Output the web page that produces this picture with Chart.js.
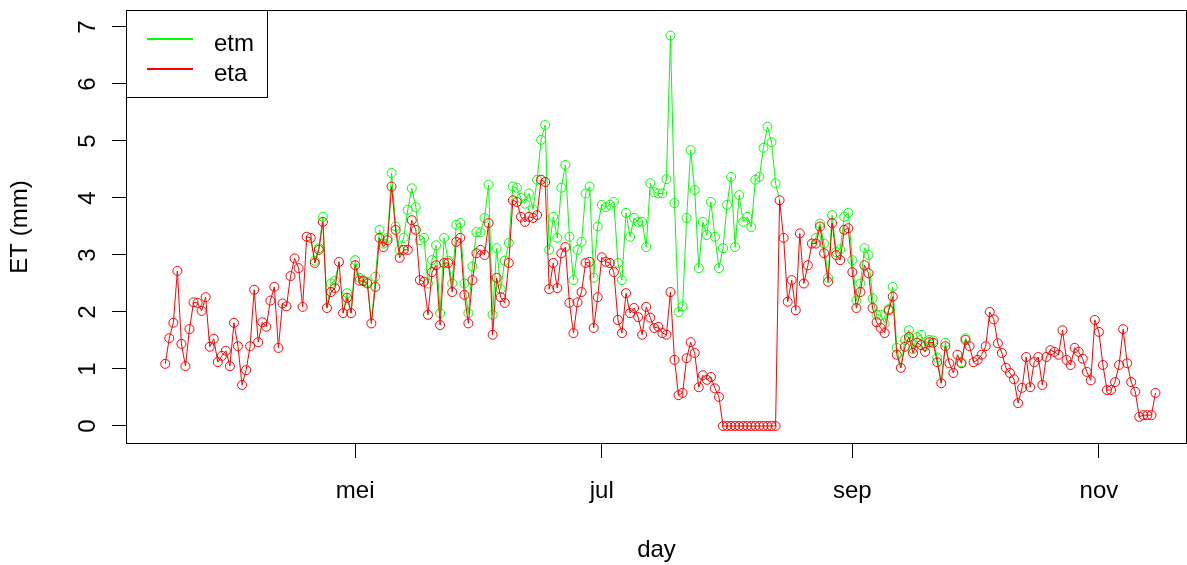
<!DOCTYPE html>
<html>
<head>
<meta charset="utf-8">
<script src="https://cdn.jsdelivr.net/npm/chart.js@4.4.1/dist/chart.umd.min.js"></script>
<style>
  html, body { margin: 0; padding: 0; background: #fff; }
</style>
</head>
<body>
<canvas id="myChart" width="1187" height="565"></canvas>
<script>
// day of year of the first value (15 March), one value per day after that
const firstDay = 74;

const eta = [
  1.09, 1.54, 1.81, 2.72, 1.44, 1.05, 1.70, 2.17, 2.16, 2.02,
  2.26, 1.39, 1.53, 1.12, 1.23, 1.32, 1.05, 1.81, 1.40, 0.72,
  0.98, 1.40, 2.39, 1.47, 1.82, 1.74, 2.20, 2.44, 1.37, 2.15,
  2.10, 2.63, 2.94, 2.77, 2.09, 3.32, 3.30, 2.86, 3.09, 3.58,
  2.07, 2.35, 2.42, 2.88, 1.98, 2.25, 1.98, 2.82, 2.55, 2.54,
  2.50, 1.80, 2.44, 3.30, 3.14, 3.26, 4.20, 3.44, 2.95, 3.09,
  3.09, 3.61, 3.44, 2.56, 2.53, 1.95, 2.70, 2.82, 1.77, 2.86,
  2.86, 2.35, 3.23, 3.30, 2.30, 1.80, 2.56, 3.03, 3.09, 3.00,
  3.56, 1.60, 2.60, 2.26, 2.16, 2.86, 3.96, 3.93, 3.67, 3.58,
  3.67, 3.65, 3.70, 4.32, 4.28, 2.40, 2.86, 2.42, 3.03, 3.14,
  2.16, 1.63, 2.17, 2.35, 2.86, 2.88, 1.72, 2.26, 2.96, 2.88,
  2.86, 2.70, 1.86, 1.63, 2.33, 1.98, 2.07, 1.91, 1.60, 2.09,
  1.90, 1.72, 1.74, 1.63, 1.60, 2.35, 1.16, 0.54, 0.58, 1.19,
  1.47, 1.28, 0.68, 0.89, 0.81, 0.86, 0.66, 0.51, 0, 0,
  0, 0, 0, 0, 0, 0, 0, 0, 0, 0,
  0, 0, 3.96, 3.30, 2.18, 2.56, 2.03, 3.38, 2.50, 2.82,
  3.20, 3.20, 3.50, 3.03, 2.53, 3.56, 3.00, 2.91, 3.44, 3.47,
  2.70, 2.07, 2.35, 2.82, 2.68, 2.07, 1.82, 1.72, 1.63, 2.03,
  2.27, 1.25, 1.02, 1.39, 1.56, 1.28, 1.46, 1.42, 1.30, 1.47,
  1.46, 1.12, 0.75, 1.40, 1.10, 0.93, 1.25, 1.10, 1.51, 1.40,
  1.12, 1.16, 1.25, 1.40, 2.00, 1.87, 1.45, 1.28, 1.02, 0.93,
  0.82, 0.40, 0.67, 1.21, 0.68, 1.12, 1.21, 0.72, 1.21, 1.33,
  1.30, 1.25, 1.68, 1.16, 1.07, 1.37, 1.30, 1.18, 0.95, 0.80,
  1.86, 1.65, 1.07, 0.63, 0.63, 0.77, 1.07, 1.70, 1.10, 0.77,
  0.60, 0.16, 0.19, 0.19, 0.19, 0.58
];

const etm = [
  1.09, 1.54, 1.81, 2.72, 1.44, 1.05, 1.70, 2.17, 2.16, 2.02,
  2.26, 1.39, 1.53, 1.12, 1.23, 1.32, 1.05, 1.81, 1.40, 0.72,
  0.98, 1.40, 2.39, 1.47, 1.82, 1.74, 2.20, 2.44, 1.37, 2.15,
  2.10, 2.63, 2.94, 2.77, 2.09, 3.32, 3.30, 2.90, 3.12, 3.67,
  2.07, 2.50, 2.55, 2.88, 1.98, 2.33, 1.98, 2.91, 2.60, 2.56,
  2.53, 1.80, 2.62, 3.44, 3.20, 3.30, 4.44, 3.50, 3.09, 3.30,
  3.79, 4.17, 3.84, 3.26, 3.30, 2.50, 2.91, 3.17, 1.98, 3.30,
  2.90, 2.50, 3.53, 3.56, 2.50, 1.98, 2.80, 3.40, 3.40, 3.65,
  4.23, 1.95, 3.12, 2.40, 2.90, 3.21, 4.20, 4.18, 4.00, 3.90,
  4.08, 3.80, 4.32, 5.02, 5.28, 3.09, 3.67, 3.30, 4.18, 4.58,
  3.32, 2.56, 3.09, 3.23, 4.08, 4.20, 2.60, 3.50, 3.88, 3.84,
  3.88, 3.93, 2.86, 2.56, 3.74, 3.32, 3.65, 3.58, 3.58, 3.14,
  4.26, 4.10, 4.08, 4.08, 4.33, 6.85, 3.91, 2.00, 2.10, 3.65,
  4.84, 4.14, 2.77, 3.58, 3.35, 3.93, 3.32, 2.77, 3.12, 3.88,
  4.37, 3.14, 4.05, 3.58, 3.67, 3.49, 4.32, 4.37, 4.88, 5.25,
  4.98, 4.26, 3.96, 3.30, 2.18, 2.56, 2.03, 3.38, 2.50, 2.82,
  3.20, 3.30, 3.55, 3.20, 2.60, 3.70, 3.05, 3.10, 3.67, 3.74,
  2.91, 2.20, 2.50, 3.12, 3.00, 2.24, 1.95, 1.95, 1.80, 2.05,
  2.44, 1.37, 1.02, 1.51, 1.68, 1.35, 1.56, 1.60, 1.40, 1.51,
  1.50, 1.20, 0.75, 1.46, 1.10, 0.93, 1.25, 1.12, 1.54, 1.40,
  1.12, 1.16, 1.25, 1.40, 2.00, 1.87, 1.45, 1.28, 1.02, 0.93,
  0.82, 0.40, 0.67, 1.21, 0.68, 1.12, 1.21, 0.72, 1.21, 1.33,
  1.30, 1.25, 1.68, 1.16, 1.07, 1.37, 1.30, 1.18, 0.95, 0.80,
  1.86, 1.65, 1.07, 0.63, 0.63, 0.77, 1.07, 1.70, 1.10, 0.77,
  0.60, 0.16, 0.19, 0.19, 0.19, 0.58
];

// first day of may, jul, sep, nov
const monthTicks = [121, 182, 244, 305];
const monthLabels = ["mei", "jul", "sep", "nov"];
const etTicks = [0, 1, 2, 3, 4, 5, 6, 7];

const GREEN = "#00ff00";
const RED = "#ff0000";
const font = { family: "'Liberation Sans', Arial, sans-serif", size: 24 };

function toPoints(values) {
  return values.map((v, i) => ({ x: firstDay + i, y: v }));
}

// where etm sits exactly under eta the red one hides it (as in the R plot,
// which draws without antialiasing) so don't let green bleed round the edges
function covered(i) {
  return etm[i] === eta[i];
}

//~==== box round the plot and the legend top left ====~//
const boxPlugin = {
  id: "box",
  afterDraw(chart) {
    const c = chart.ctx;
    const a = chart.chartArea;
    c.save();
    c.strokeStyle = "#000";
    c.lineWidth = 1;
    c.strokeRect(a.left + 0.5, a.top + 0.5, a.right - a.left - 1, a.bottom - a.top - 1);

    c.fillStyle = "#fff";
    c.fillRect(a.left + 0.5, a.top + 0.5, 141, 87);
    c.strokeRect(a.left + 0.5, a.top + 0.5, 141, 87);
    const items = [["etm", GREEN], ["eta", RED]];
    c.font = font.size + "px " + font.family;
    c.textBaseline = "alphabetic";
    items.forEach((it, i) => {
      const y = a.top + 29 + i * 30;
      c.strokeStyle = it[1];
      c.lineWidth = 2;
      c.beginPath();
      c.moveTo(a.left + 21, y);
      c.lineTo(a.left + 67, y);
      c.stroke();
      c.fillStyle = "#000";
      c.fillText(it[0], a.left + 88, y + 11.5);
    });
    c.restore();
  }
};

const ctx = document.getElementById("myChart");
new Chart(ctx, {
  type: "line",
  data: {
    datasets: [
      {
        label: "etm",
        data: toPoints(etm),
        borderColor: GREEN,
        borderWidth: 1,
        pointRadius: 4.5,
        pointBorderWidth: 1,
        pointBorderColor: (c) => (covered(c.dataIndex) ? "rgba(0,0,0,0)" : GREEN),
        pointBackgroundColor: "rgba(0,0,0,0)",
        segment: {
          borderColor: (c) => (covered(c.p0DataIndex) && covered(c.p1DataIndex) ? "rgba(0,0,0,0)" : GREEN)
        },
        tension: 0,
        order: 2
      },
      {
        label: "eta",
        data: toPoints(eta),
        borderColor: RED,
        borderWidth: 1,
        pointRadius: 4.5,
        pointBorderWidth: 1,
        pointBorderColor: RED,
        pointBackgroundColor: "rgba(0,0,0,0)",
        tension: 0,
        order: 1
      }
    ]
  },
  options: {
    responsive: false,
    animation: false,
    devicePixelRatio: 1,
    layout: { autoPadding: false, padding: { top: 10, left: 0, right: 0, bottom: 0 } },
    plugins: { legend: { display: false }, tooltip: { enabled: false } },
    scales: {
      x: {
        type: "linear",
        min: 64.29,
        max: 326.8,
        afterBuildTicks: (s) => { s.ticks = monthTicks.map((v) => ({ value: v })); },
        afterFit: (s) => { s.height = 121; s.paddingLeft = 0; s.paddingRight = 0; },
        grid: { drawOnChartArea: false, drawTicks: true, tickLength: 14, color: "#000" },
        border: { display: false },
        ticks: {
          font: font,
          color: "#000",
          maxRotation: 0,
          padding: 19,
          callback: (v, i) => monthLabels[i]
        },
        title: { display: true, text: "day", font: font, color: "#000", padding: { bottom: 0, top: 0 } }
      },
      y: {
        type: "linear",
        min: -0.316,
        max: 7.298,
        afterBuildTicks: (s) => { s.ticks = etTicks.map((v) => ({ value: v })); },
        afterFit: (s) => { s.width = 126; s.paddingTop = 0; s.paddingBottom = 0; },
        grid: { drawOnChartArea: false, drawTicks: true, tickLength: 14, color: "#000" },
        border: { display: false },
        ticks: {
          font: font,
          color: "#000",
          minRotation: 90,
          maxRotation: 90,
          crossAlign: "center",
          padding: 17
        },
        title: { display: true, text: "ET (mm)", font: font, color: "#000", padding: { top: 6, bottom: 0 } }
      }
    }
  },
  plugins: [boxPlugin]
});
</script>
</body>
</html>
